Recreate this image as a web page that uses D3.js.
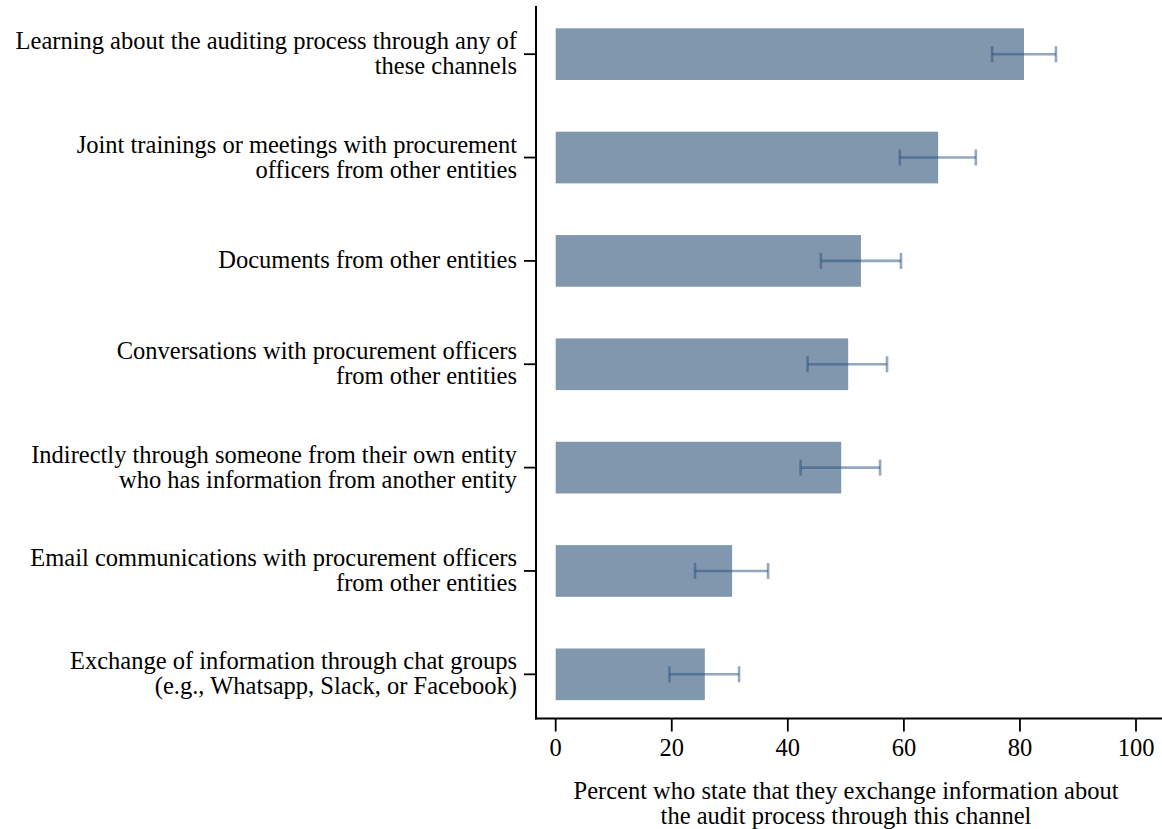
<!DOCTYPE html>
<html><head><meta charset="utf-8">
<script src="https://cdn.jsdelivr.net/npm/d3@7"></script>
<style>body{margin:0;background:#fff}svg{display:block}text{font-family:"Liberation Serif","Times New Roman",serif;fill:#000}</style>
</head><body><svg id="c" width="1162" height="829"></svg>
<script>
const categories = [
  ["Learning about the auditing process through any of","these channels"],
  ["Joint trainings or meetings with procurement","officers from other entities"],
  ["Documents from other entities"],
  ["Conversations with procurement officers","from other entities"],
  ["Indirectly through someone from their own entity","who has information from another entity"],
  ["Email communications with procurement officers","from other entities"],
  ["Exchange of information through chat groups","(e.g., Whatsapp, Slack, or Facebook)"]
];
const values = [80.7, 65.9, 52.6, 50.4, 49.2, 30.4, 25.7];
const lower  = [75.2, 59.3, 45.7, 43.4, 42.2, 24.0, 19.6];
const upper  = [86.2, 72.4, 59.5, 57.1, 55.9, 36.6, 31.6];
const xTicks = [0, 20, 40, 60, 80, 100];
const xTitle = ["Percent who state that they exchange information about","the audit process through this channel"];

const svg = d3.select("#c");
const keys = categories.map((d,i)=>i);
const x = d3.scaleLinear().domain([0,100]).range([555.7,1136]);
const y = d3.scaleBand().domain(keys).range([2.5,726]).paddingInner(0.5).paddingOuter(0.25);
const axisX0 = 536, axisY = 718.5;
const FS = 24.5;

// bars
svg.selectAll("rect.bar").data(values).join("rect")
  .attr("x", x(0)).attr("y",(d,i)=>y(i))
  .attr("width", d=>x(d)-x(0)).attr("height", y.bandwidth())
  .attr("fill","#8097ae");

// error bars
const eg = svg.append("g").attr("stroke","rgb(40,82,128)").attr("stroke-opacity",0.5).attr("stroke-width",2.6).attr("fill","none");
values.forEach((v,i)=>{
  const cy = y(i)+y.bandwidth()/2;
  eg.append("line").attr("x1",x(lower[i])).attr("x2",x(upper[i])).attr("y1",cy).attr("y2",cy);
  eg.append("line").attr("x1",x(lower[i])).attr("x2",x(lower[i])).attr("y1",cy-8).attr("y2",cy+8);
  eg.append("line").attr("x1",x(upper[i])).attr("x2",x(upper[i])).attr("y1",cy-8).attr("y2",cy+8);
});

// axes lines
svg.append("line").attr("x1",axisX0).attr("x2",axisX0).attr("y1",6).attr("y2",axisY+1).attr("stroke","#000").attr("stroke-width",2);
svg.append("line").attr("x1",axisX0-1).attr("x2",1162).attr("y1",axisY).attr("y2",axisY).attr("stroke","#000").attr("stroke-width",2);

// x ticks
const xt = svg.append("g");
xTicks.forEach(t=>{
  xt.append("line").attr("x1",x(t)).attr("x2",x(t)).attr("y1",axisY).attr("y2",axisY+13).attr("stroke","#000").attr("stroke-width",1.8);
  xt.append("text").attr("x",x(t)).attr("y",747).attr("dy","0.35em").attr("text-anchor","middle").attr("font-size",FS).text(t);
});

// y ticks & labels
keys.forEach(i=>{
  const cy = y(i)+y.bandwidth()/2;
  svg.append("line").attr("x1",axisX0-12).attr("x2",axisX0).attr("y1",cy).attr("y2",cy).attr("stroke","#000").attr("stroke-width",1.8);
  const lines = categories[i];
  const t = svg.append("text").attr("text-anchor","end").attr("font-size",FS);
  lines.forEach((l,j)=>{
    const off = (j - (lines.length-1)/2)*25 - 1;
    t.append("tspan").attr("x",517).attr("y",cy+off).attr("dy","0.35em").text(l);
  });
});

// x title
const tt = svg.append("text").attr("text-anchor","middle").attr("font-size",FS);
xTitle.forEach((l,j)=>tt.append("tspan").attr("x",846).attr("y",790+j*25).attr("dy","0.35em").text(l));
</script></body></html>
